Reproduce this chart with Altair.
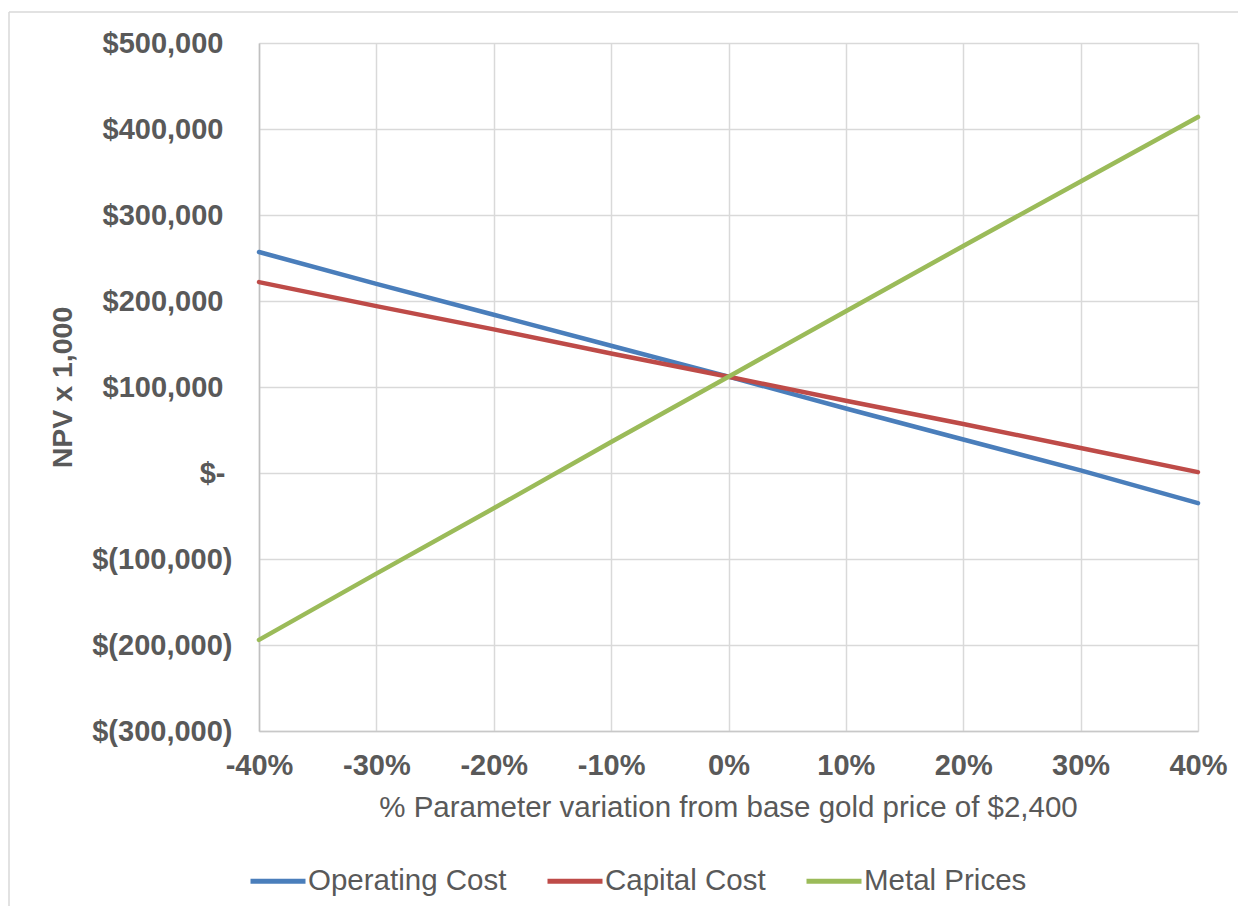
import altair as alt
import pandas as pd

pcts = [-40, -30, -20, -10, 0, 10, 20, 30, 40]
series_names = ["Operating Cost", "Capital Cost", "Metal Prices"]
operating_cost = [257000, 220000, 184000, 148000, 112000, 75000, 39000, 3000, -35000]
capital_cost = [222000, 194000, 167000, 139000, 112000, 84000, 57000, 29000, 1000]
metal_prices = [-194000, -117000, -41000, 36000, 112000, 188000, 264000, 339000, 414000]
colors = ["#4A7EBB", "#BE4B48", "#9BBB59"]
y_ticks = [-300000, -200000, -100000, 0, 100000, 200000, 300000, 400000, 500000]

rows = []
for name, vals in zip(series_names, [operating_cost, capital_cost, metal_prices]):
    for p, v in zip(pcts, vals):
        rows.append({"pct": p, "npv": v, "series": name})
df = pd.DataFrame(rows)

FONT = "Liberation Sans"
TXT = "#595959"

lines = alt.Chart(df).mark_line(strokeWidth=4.5, strokeCap="round").encode(
    x=alt.X("pct:Q",
            scale=alt.Scale(domain=[-40, 40], nice=False),
            axis=alt.Axis(values=pcts, labelExpr="datum.value + '%'",
                          title="% Parameter variation from base gold price of $2,400",
                          labelFont=FONT, labelFontSize=29, labelFontWeight="bold",
                          labelColor=TXT, labelPadding=20, labelBaseline="top",
                          labelFlush=False, labelOverlap=False,
                          titleFont=FONT, titleFontSize=29.5, titleFontWeight="normal",
                          titleColor=TXT, titleBaseline="alphabetic", titleY=85,
                          titleX=469, titleAlign="center",
                          ticks=False, domainColor="#C8C8C8", domainWidth=1.5,
                          gridColor="#D9D9D9", gridWidth=1.5)),
    y=alt.Y("npv:Q",
            scale=alt.Scale(domain=[-300000, 500000], nice=False),
            axis=alt.Axis(values=y_ticks,
                          labelExpr="datum.value == 0 ? '$-' : (datum.value < 0 ? '$(' + format(-datum.value, ',') + ')' : '$' + format(datum.value, ','))",
                          title="NPV x 1,000",
                          labelFont=FONT, labelFontSize=29, labelFontWeight="bold",
                          labelColor=TXT,
                          labelPadding={"condition": [{"test": "datum.value < 0", "value": 27},
                                                      {"test": "datum.value == 0", "value": 34}],
                                        "value": 36},
                          labelLimit=300, labelOverlap=False,
                          titleFont=FONT, titleFontSize=28.5, titleFontWeight="bold",
                          titleColor=TXT, titleAngle=270, titleBaseline="alphabetic",
                          titleAlign="center", titleX=-188, titleY=344,
                          ticks=False, domainColor="#C0C0C0", domainWidth=1.5,
                          gridColor="#D9D9D9", gridWidth=1.5)),
    color=alt.Color("series:N",
                    scale=alt.Scale(domain=series_names, range=colors),
                    sort=series_names,
                    title=None,
                    legend=alt.Legend(orient="none", legendX=-11, legendY=808,
                                      direction="horizontal",
                                      symbolType="stroke", symbolStrokeWidth=5,
                                      symbolSize=3025, columnPadding=30,
                                      labelOffset=0, labelFont=FONT, labelFontSize=29.5,
                                      labelColor=TXT, labelLimit=400)),
)

frame_left = alt.Chart(alt.Data(values=[{}])).mark_rule(color="#D9D9D9", strokeWidth=1.5).encode(
    x=alt.value(-250), y=alt.value(-31), y2=alt.value(870))
frame_top = alt.Chart(alt.Data(values=[{}])).mark_rule(color="#D9D9D9", strokeWidth=1.5).encode(
    y=alt.value(-31), x=alt.value(-250), x2=alt.value(990))

chart = alt.layer(frame_left, frame_top, lines).properties(
    width=939, height=688,
    autosize=alt.AutoSizeParams(type="none"),
    padding={"left": 251, "top": 35, "right": 40, "bottom": 175},
).configure_view(stroke="transparent")

chart.save("out.html", embed_options={"renderer": "svg", "actions": False})
